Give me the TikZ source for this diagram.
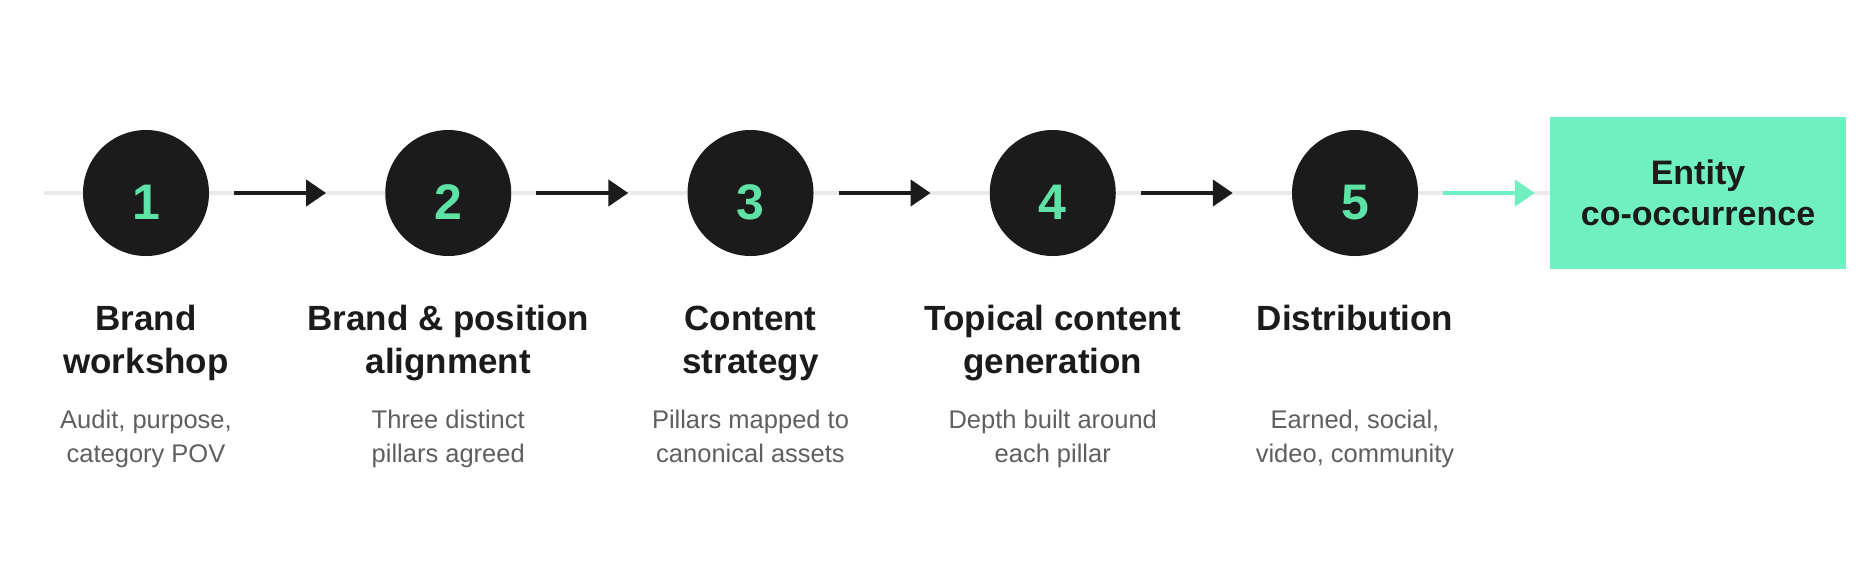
\documentclass[tikz,border=0pt]{standalone}
\usepackage{fontspec}
\setmainfont{Liberation Sans}
\usetikzlibrary{arrows.meta,backgrounds}
\definecolor{ink}{RGB}{28,27,27}
\definecolor{mint}{RGB}{112,240,192}
\definecolor{digit}{RGB}{94,226,166}
\definecolor{railgray}{RGB}{234,234,234}
\definecolor{subgray}{RGB}{95,95,95}
\newcommand\twoline[2]{\begin{tabular}[t]{@{}c@{}}#1\\#2\end{tabular}}
\newcommand\boxlines[2]{\begin{tabular}{@{}c@{}}\rule{0pt}{36.5pt}#1\\#2\end{tabular}}
\begin{document}
\begin{tikzpicture}[x=1pt,y=-1pt,
  stepcircle/.style={circle, fill=ink, minimum size=126pt, inner sep=0pt},
  num/.style={font=\fontsize{50}{60}\selectfont\bfseries, text=digit, anchor=base, inner sep=0pt},
  title/.style={font=\fontsize{35}{43}\selectfont\bfseries, text=ink, anchor=base, inner sep=0pt},
  sub/.style={font=\fontsize{25.5}{34}\selectfont, text=subgray, anchor=base, inner sep=0pt},
  flow/.style={draw=ink, line width=4.5pt, -{Triangle[length=20pt,width=26pt]}, shorten <=25pt, shorten >=59pt},
  rail/.style={draw=railgray, line width=4pt},
  goal/.style={rectangle, fill=mint, minimum width=296pt, minimum height=152pt, inner sep=0pt,
    font=\fontsize{34}{41}\selectfont\bfseries, text=ink},
]
\useasboundingbox (0,0) rectangle (1874,574);

% circles
\node[stepcircle] (c1) at (146,193) {};
\node[stepcircle] (c2) at (448.25,193) {};
\node[stepcircle] (c3) at (750.5,193) {};
\node[stepcircle] (c4) at (1052.75,193) {};
\node[stepcircle] (c5) at (1355,193) {};

% digits
\node[num] (n1) at (146,219) {1};
\node[num] (n2) at (448.25,219) {2};
\node[num] (n3) at (750.5,219) {3};
\node[num] (n4) at (1052.75,219) {4};
\node[num] (n5) at (1355,219) {5};

% goal box
\node[goal] (box) at (1698,193) {\boxlines{Entity}{co-occurrence}};

% titles
\node[title] (t1) at (146,330) {\twoline{Brand}{workshop}};
\node[title] (t2) at (448.25,330) {\twoline{Brand \& position}{alignment}};
\node[title] (t3) at (750.5,330) {\twoline{Content}{strategy}};
\node[title] (t4) at (1052.75,330) {\twoline{Topical content}{generation}};
\node[title] (t5) at (1355,330) {Distribution};

% subtitles
\node[sub] (s1) at (146,428) {\twoline{Audit, purpose,}{category POV}};
\node[sub] (s2) at (448.25,428) {\twoline{Three distinct}{pillars agreed}};
\node[sub] (s3) at (750.5,428) {\twoline{Pillars mapped to}{canonical assets}};
\node[sub] (s4) at (1052.75,428) {\twoline{Depth built around}{each pillar}};
\node[sub] (s5) at (1355,428) {\twoline{Earned, social,}{video, community}};

% arrows
\draw[flow] (c1) -- (c2);
\draw[flow] (c2) -- (c3);
\draw[flow] (c3) -- (c4);
\draw[flow] (c4) -- (c5);
\draw[flow, draw=mint, shorten >=15pt] (c5) -- (box);

% background and rail
\coordinate (railstart) at (44,193);
\begin{scope}[on background layer]
  \fill[white] (0,0) rectangle (1874,574);
  \draw[rail] (railstart) -- (box.west);
\end{scope}
\end{tikzpicture}
\end{document}
